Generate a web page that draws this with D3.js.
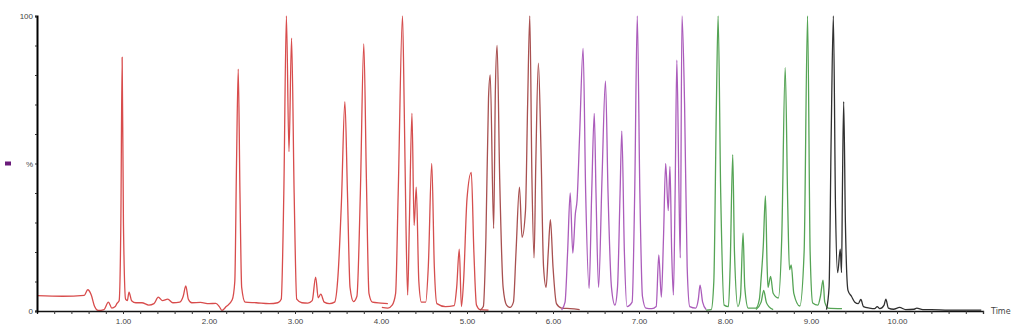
<!DOCTYPE html>
<html>
<head>
<meta charset="utf-8">
<script src="https://cdn.jsdelivr.net/npm/d3@7"></script>
<style>
  body { margin: 0; background: #fff; }
  svg { display: block; font-family: "DejaVu Sans", sans-serif; }
</style>
</head>
<body>
<svg width="1021" height="326"></svg>
<script>
// retention time (min) / relative intensity (%), one array per trace
const redTime = [0.00,0.30,0.55,0.59,0.63,0.67,0.71,0.78,0.83,0.87,0.91,0.93,0.955,0.975,0.99,1.005,1.03,1.05,1.07,1.10,1.15,1.22,1.30,1.36,1.41,1.46,1.52,1.58,1.66,1.70,1.73,1.76,1.80,1.90,2.00,2.08,2.12,2.15,2.20,2.27,2.30,2.32,2.34,2.36,2.38,2.42,2.55,2.70,2.80,2.84,2.87,2.90,2.93,2.96,2.99,3.02,3.08,3.15,3.20,3.24,3.27,3.30,3.34,3.40,3.46,3.50,3.54,3.58,3.61,3.64,3.68,3.72,3.76,3.80,3.83,3.86,3.90,4.00,4.08];
const redPct  = [5.2,5.0,5.3,7.2,5.5,1.5,0.2,0.5,3.0,1.0,1.5,2.6,3.5,30,86,30,4,3.5,6.4,3.5,2.8,2.8,2.0,2.5,4.7,3.5,4.0,2.8,3.0,5.0,8.5,4.0,2.8,2.9,2.5,2.6,1.5,0.2,1.5,3.8,10,50,82,40,8,3.0,2.8,2.5,2.8,4,40,100,54,92.5,40,4,2.8,2.7,3.5,11.5,4.5,5.7,3.0,2.5,3.0,12,37,71,40,8,3.2,5,40,90.5,45,6,3.0,2.7,2.5];

const red2Time = [4.01,4.08,4.13,4.17,4.20,4.25,4.27,4.29,4.31,4.33,4.36,4.385,4.41,4.44,4.47,4.52,4.55,4.59,4.62,4.65,4.75,4.85,4.88,4.91,4.935,4.96,5.00,5.05,5.08,5.11,5.15,5.25];
const red2Pct  = [1.2,1.0,2.0,6,40,100,69,30,5.4,30,67,29,42,10,3,3,15,50,15,2.5,1.5,1.8,8,21,1.5,10,38,47,20,2,0.5,0.3];

const brownTime = [5.15,5.19,5.22,5.25,5.27,5.31,5.33,5.35,5.38,5.42,5.46,5.50,5.54,5.57,5.61,5.64,5.68,5.705,5.73,5.755,5.78,5.80,5.83,5.86,5.89,5.92,5.945,5.97,6.00,6.04,6.10,6.20,6.31];
const brownPct  = [0.3,1.5,25,72,80,28,75,90,45,8,2,1.2,3,20,42,25,34,70,100,45,18,50,84,55,15,8,20,31,15,2.5,1,0.8,0.5];

const purpleTime = [6.10,6.14,6.17,6.20,6.23,6.26,6.28,6.31,6.35,6.38,6.42,6.45,6.48,6.50,6.53,6.57,6.61,6.64,6.68,6.72,6.75,6.78,6.80,6.83,6.86,6.92,6.95,6.98,7.01,7.04,7.08,7.15,7.20,7.23,7.26,7.285,7.31,7.34,7.36,7.38,7.40,7.42,7.44,7.465,7.48,7.50,7.53,7.56,7.59,7.66,7.69,7.71,7.74,7.78];
const purplePct  = [0.3,3,20,40,19.6,33,37.6,60,89,40,7.7,40,67,40,8,45,78,40,8,2,8,40,61,20,1.5,3,40,100,40,5,1,0.8,1.5,19,4.7,25,50,34,49,20,5.4,40,85,40,18,100,70,15,1.5,1,4,8.8,3,0.5];

const greenTime = [7.78,7.84,7.87,7.90,7.92,7.95,7.99,8.04,8.06,8.09,8.11,8.15,8.18,8.21,8.23,8.27,8.36,8.40,8.42,8.445,8.47,8.49,8.50,8.53,8.56,8.62,8.66,8.70,8.73,8.75,8.77,8.80,8.87,8.92,8.96,8.99,9.02,9.08,9.11,9.14,9.16,9.20,9.36];
const greenPct  = [0.3,0.5,10,70,100,40,2,1.5,15,53,20,1.5,5,26.4,8,1,1,4,11,22,39,15,8,11.7,6,4.4,25,82.5,35,14,15.6,6,1.7,20,100,20,2.7,2,5,10.5,3,1,0.8];

const green2Time = [8.36,8.42,8.45,8.48,8.51,8.56];
const green2Pct  = [0.5,3,7,3,1.5,0.5];

const blackTime = [9.18,9.21,9.235,9.26,9.285,9.31,9.34,9.355,9.365,9.38,9.40,9.43,9.47,9.51,9.55,9.58,9.61,9.68,9.74,9.77,9.80,9.85,9.87,9.90,9.96,10.03,10.10,10.20,10.23,10.30,10.40,10.60,10.80,10.98];
const blackPct  = [0.5,8,60,100,35,13,21,13,40,71,30,7,5,3.0,2.5,3.9,1.5,1.0,0.8,1.5,0.8,2,4,1,0.6,1.2,0.5,0.6,1,0.5,0.5,0.3,0.3,0.3];

const traces = [
    {time: redTime, pct: redPct, color: "#d84c4c"},
    {time: red2Time, pct: red2Pct, color: "#d54e4e"},
    {time: brownTime, pct: brownPct, color: "#a85050"},
    {time: purpleTime, pct: purplePct, color: "#ab5cbb"},
    {time: greenTime, pct: greenPct, color: "#55a455"},
    {time: green2Time, pct: green2Pct, color: "#55a455"},
    {time: blackTime, pct: blackPct, color: "#303030"}
];

const majorTicks = [1,2,3,4,5,6,7,8,9,10];
const yLabels = {0: "0", 50: "%", 100: "100"};

const svg = d3.select("svg");
const area = {left: 37, right: 983, top: 16, bottom: 311};

const scX = d3.scaleLinear().domain([0, 11]).range([area.left, area.right]);
const scY = d3.scaleLinear().domain([0, 100]).range([area.bottom, area.top]);

// traces
const line = d3.line()
    .x(d => scX(d[0]))
    .y(d => scY(d[1]))
    .curve(d3.curveMonotoneX);

for (let tr of traces) {
    svg.append("path")
        .datum(d3.zip(tr.time, tr.pct))
        .attr("d", line)
        .style("fill", "none")
        .style("stroke", tr.color)
        .style("stroke-width", 1.3);
}

// x axis: minor ticks every 0.2 min, labels on whole minutes
const minorTicks = d3.range(0.2, 11.01, 0.2).map(v => +v.toFixed(1));
const gx = svg.append("g")
    .attr("transform", `translate(0, ${area.bottom})`)
    .call(d3.axisBottom(scX).tickValues(minorTicks).tickSize(3).tickFormat(""));
gx.select(".domain").attr("stroke", "#111").attr("stroke-width", 1.3);
gx.selectAll(".tick line").attr("stroke", "#333");

svg.append("g")
    .attr("transform", `translate(0, ${area.bottom})`)
    .call(d3.axisBottom(scX).tickValues(majorTicks).tickSize(0).tickPadding(7).tickFormat(d3.format(".2f")))
    .call(g => g.select(".domain").remove())
    .selectAll("text")
    .attr("fill", "#444")
    .style("font-size", "8px");

svg.append("text")
    .attr("x", area.right + 8)
    .attr("y", area.bottom + 3)
    .attr("fill", "#444")
    .style("font-size", "8px")
    .text("Time");

// y axis
const gy = svg.append("g")
    .attr("transform", `translate(${area.left}, 0)`)
    .call(d3.axisLeft(scY).tickValues(d3.range(0, 101, 10)).tickSize(2).tickPadding(2)
        .tickFormat(d => yLabels[d] || ""));
gy.select(".domain").attr("stroke", "#000").attr("stroke-width", 2);
gy.selectAll(".tick line").attr("stroke", "#333");
gy.selectAll("text").attr("fill", "#444").style("font-size", "8px");

// legend swatch
svg.append("rect")
    .attr("x", 5)
    .attr("y", scY(50) - 2)
    .attr("width", 6)
    .attr("height", 4)
    .attr("fill", "#6a1b7a");
</script>
</body>
</html>
